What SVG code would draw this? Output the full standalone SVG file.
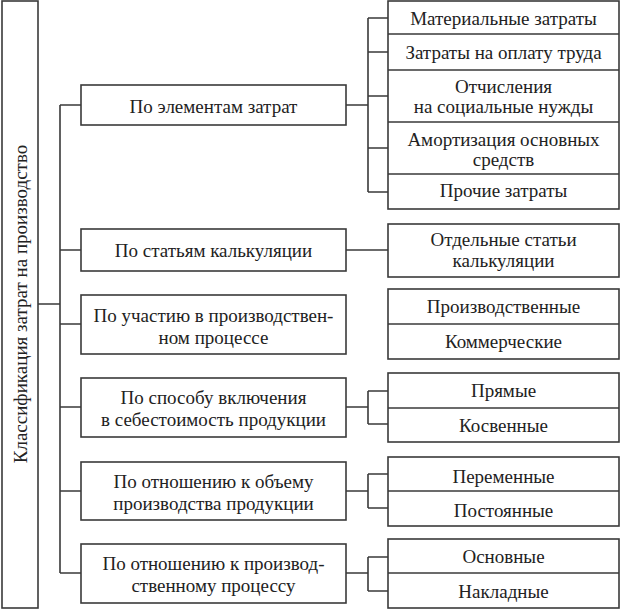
<svg xmlns="http://www.w3.org/2000/svg" width="621" height="609" viewBox="0 0 621 609">
<defs>
<style>
.b{fill:#fff;stroke:#3a3a3a;stroke-width:1.6}
.l{fill:none;stroke:#3a3a3a;stroke-width:1.6}
</style>
</defs>
<rect width="621" height="609" fill="#fff"/>
<g id="connectors" class="l">
<path d="M38 304H60M60 105V573M60 105H81M60 250H81M60 324H81M60 407H81M60 491H81M60 573H81"/>
<path d="M346 105H368M368 18V192M368 18H388M368 52H388M368 96H388M368 148H388M368 192H388"/>
<path d="M346 250H388"/>
<path d="M346 407H368M368 391V424M368 391H388M368 424H388"/>
<path d="M346 491H368M368 474V508M368 474H388M368 508H388"/>
<path d="M346 573H368M368 557V591M368 557H388M368 591H388"/>
</g>
<g id="root">
<rect class="b" x="2" y="1" width="36" height="607"/>
<text style="font-family:serif;font-size:19px;fill:#222;text-anchor:middle" transform="translate(27 304) rotate(-90)">Классификация затрат на производство</text>
</g>
<g id="cat1">
<rect class="b" x="81" y="85" width="265" height="40"/>
<text style="font-family:serif;font-size:19px;fill:#222;text-anchor:middle" x="213.5" y="113">По элементам затрат</text>
</g>
<g id="cat2">
<rect class="b" x="81" y="229" width="265" height="42"/>
<text style="font-family:serif;font-size:19px;fill:#222;text-anchor:middle" x="213.5" y="257">По статьям калькуляции</text>
</g>
<g id="cat3">
<rect class="b" x="81" y="295" width="265" height="59"/>
<text style="font-family:serif;font-size:19px;fill:#222;text-anchor:middle" x="213.5" y="322">По участию в производствен-</text>
<text style="font-family:serif;font-size:19px;fill:#222;text-anchor:middle" x="213.5" y="344">ном процессе</text>
</g>
<g id="cat4">
<rect class="b" x="81" y="378" width="265" height="59"/>
<text style="font-family:serif;font-size:19px;fill:#222;text-anchor:middle" x="213.5" y="404">По способу включения</text>
<text style="font-family:serif;font-size:19px;fill:#222;text-anchor:middle" x="213.5" y="426">в себестоимость продукции</text>
</g>
<g id="cat5">
<rect class="b" x="81" y="462" width="265" height="58"/>
<text style="font-family:serif;font-size:19px;fill:#222;text-anchor:middle" x="213.5" y="488">По отношению к объему</text>
<text style="font-family:serif;font-size:19px;fill:#222;text-anchor:middle" x="213.5" y="510">производства продукции</text>
</g>
<g id="cat6">
<rect class="b" x="81" y="544" width="265" height="59"/>
<text style="font-family:serif;font-size:19px;fill:#222;text-anchor:middle" x="213.5" y="570">По отношению к производ-</text>
<text style="font-family:serif;font-size:19px;fill:#222;text-anchor:middle" x="213.5" y="592">ственному процессу</text>
</g>
<g id="elements">
<rect class="b" x="388" y="1" width="231" height="208"/>
<path class="l" d="M388 34H619M388 70H619M388 122H619M388 174H619"/>
<text style="font-family:serif;font-size:19px;fill:#222;text-anchor:middle" x="503.5" y="25">Материальные затраты</text>
<text style="font-family:serif;font-size:19px;fill:#222;text-anchor:middle" x="503.5" y="59">Затраты на оплату труда</text>
<text style="font-family:serif;font-size:19px;fill:#222;text-anchor:middle" x="503.5" y="93">Отчисления</text>
<text style="font-family:serif;font-size:19px;fill:#222;text-anchor:middle" x="503.5" y="113">на социальные нужды</text>
<text style="font-family:serif;font-size:19px;fill:#222;text-anchor:middle" x="503.5" y="146">Амортизация основных</text>
<text style="font-family:serif;font-size:19px;fill:#222;text-anchor:middle" x="503.5" y="166">средств</text>
<text style="font-family:serif;font-size:19px;fill:#222;text-anchor:middle" x="503.5" y="197">Прочие затраты</text>
</g>
<g id="calc">
<rect class="b" x="388" y="224" width="231" height="53"/>
<text style="font-family:serif;font-size:19px;fill:#222;text-anchor:middle" x="503.5" y="246">Отдельные статьи</text>
<text style="font-family:serif;font-size:19px;fill:#222;text-anchor:middle" x="503.5" y="267">калькуляции</text>
</g>
<g id="process">
<rect class="b" x="388" y="289" width="231" height="70"/>
<path class="l" d="M388 324H619"/>
<text style="font-family:serif;font-size:19px;fill:#222;text-anchor:middle" x="503.5" y="313">Производственные</text>
<text style="font-family:serif;font-size:19px;fill:#222;text-anchor:middle" x="503.5" y="348">Коммерческие</text>
</g>
<g id="inclusion">
<rect class="b" x="388" y="373" width="231" height="69"/>
<path class="l" d="M388 408H619"/>
<text style="font-family:serif;font-size:19px;fill:#222;text-anchor:middle" x="503.5" y="397">Прямые</text>
<text style="font-family:serif;font-size:19px;fill:#222;text-anchor:middle" x="503.5" y="432">Косвенные</text>
</g>
<g id="volume">
<rect class="b" x="388" y="457" width="231" height="69"/>
<path class="l" d="M388 491H619"/>
<text style="font-family:serif;font-size:19px;fill:#222;text-anchor:middle" x="503.5" y="483">Переменные</text>
<text style="font-family:serif;font-size:19px;fill:#222;text-anchor:middle" x="503.5" y="517">Постоянные</text>
</g>
<g id="role">
<rect class="b" x="388" y="539" width="231" height="69"/>
<path class="l" d="M388 573H619"/>
<text style="font-family:serif;font-size:19px;fill:#222;text-anchor:middle" x="503.5" y="563">Основные</text>
<text style="font-family:serif;font-size:19px;fill:#222;text-anchor:middle" x="503.5" y="598">Накладные</text>
</g>
</svg>
